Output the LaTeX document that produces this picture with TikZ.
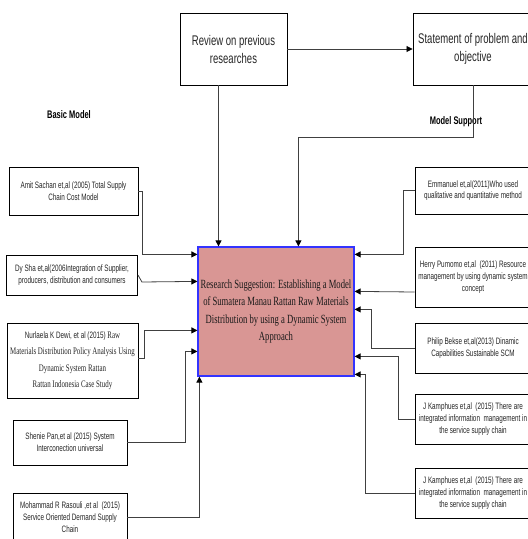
\documentclass[tikz,border=0pt]{standalone}
\usepackage{fontspec}
\newfontfamily\narrowsans[FakeStretch=0.68]{Liberation Sans}
\newfontfamily\narrowserif[FakeStretch=0.69]{Liberation Serif}
\usetikzlibrary{arrows.meta,calc}

\definecolor{suggestFill}{HTML}{D99694}
\definecolor{suggestEdge}{HTML}{3333FF}
\definecolor{linkGray}{HTML}{404040}

\begin{document}
\begin{tikzpicture}[x=1pt, y=-1pt,
	paper/.style={draw=black, line width=0.9pt, fill=white, align=center, inner sep=0pt, text=black!85,
		font=\narrowsans\fontsize{9.3}{11.7}\selectfont},
	bigpaper/.style={paper, minimum width=107pt, minimum height=72pt, font=\narrowsans\fontsize{14}{18}\selectfont},
	heading/.style={font=\narrowsans\bfseries\fontsize{11}{13}\selectfont},
	link/.style={draw=linkGray, line width=0.8pt, -{Triangle[length=6pt,width=6pt,color=black]}}]

	% page frame, the right column runs off the edge
	\useasboundingbox (0,0) rectangle (528,539);
	\clip (0,0) rectangle (528,539);

	% top row
	\node[bigpaper] (review) at (233.5,49) {Review on previous\\researches};
	\node[bigpaper, minimum width=120pt] (statement) at (473,49) {Statement of problem and\\objective};

	% column headings
	\node[heading] (basic) at (69,115) {Basic Model};
	\node[heading] (support) at (456,122) {Model Support};

	% central suggestion box
	\node[draw=suggestEdge, line width=1.2pt, fill=suggestFill, minimum width=156pt, minimum height=129pt,
		align=center, inner sep=0pt, text=black!90, font=\narrowserif\fontsize{12.5}{17.5}\selectfont]
		(suggestion) at (276,311.5)
		{Research Suggestion: Establishing a Model\\of Sumatera Manau Rattan Raw Materials\\Distribution by using a Dynamic System\\Approach};

	% basic model papers (left)
	\node[paper, minimum width=129pt, minimum height=48pt] (amit) at (73.5,191)
		{Amit Sachan et,al (2005) Total Supply\\Chain Cost Model};
	\node[paper, minimum width=131pt, minimum height=40pt] (dysha) at (72,275)
		{Dy Sha et,al(2006Integration of Supplier,\\producers, distribution and consumers};
	\node[paper, minimum width=131pt, minimum height=75pt, font=\narrowserif\fontsize{10}{16.5}\selectfont] (nurlaela) at (72.5,360.5)
		{{\narrowsans\fontsize{9.3}{16.5}\selectfont Nurlaela K Dewi, et al (2015)} Raw\\Materials Distribution Policy Analysis Using\\Dynamic System Rattan\\Rattan Indonesia Case Study};
	\node[paper, minimum width=114pt, minimum height=45pt] (shenie) at (70,442.5)
		{Shenie Pan,et al (2015) System\\Interconection universal};
	\node[paper, minimum width=114pt, minimum height=48pt] (mohammad) at (70,517)
		{Mohammad R Rasouli ,et al\ \ (2015)\\Service Oriented Demand Supply\\Chain};

	% model support papers (right)
	\node[paper, minimum width=116pt, minimum height=47pt] (emmanuel) at (473,190.5)
		{Emmanuel et,al(2011)Who used\\qualitative and quantitative method};
	\node[paper, minimum width=116pt, minimum height=60pt] (herry) at (473,277)
		{Herry Pumomo et,al\ \ (2011) Resource\\management by using dynamic system\\concept};
	\node[paper, minimum width=116pt, minimum height=50pt] (philip) at (473,348)
		{Philip Bekse et,al(2013) Dinamic\\Capabilities Sustainable SCM};
	\node[paper, minimum width=116pt, minimum height=50pt] (jkone) at (473,419)
		{J Kamphues et,al\ \ (2015) There are\\integrated information\ \ management in\\the service supply chain};
	\node[paper, minimum width=116pt, minimum height=50pt] (jktwo) at (473,493)
		{J Kamphues et,al\ \ (2015) There are\\integrated information\ \ management in\\the service supply chain};

	% top links
	\draw[link] (review.east) -- (statement.west);
	\draw[link] ($(review.south)+(-15,0)$) coordinate (rv) -- (rv |- suggestion.north);
	\draw[link] (statement.south) -- ++(0,52) -| ($(suggestion.north west)+(101,0)$);

	% left links
	\draw[link] (amit.east) -- ++(4,0) |- ($(suggestion.north west)+(0,8)$);
	\draw[link] (dysha.east) -- ++(4,7) -- ($(suggestion.north west)+(0,35)$);
	\draw[link] ($(nurlaela.east)+(0,-2)$) -- ++(6,0) |- ($(suggestion.north west)+(0,84)$);
	\draw[link] (shenie.east) -- ++(58,0) |- ($(suggestion.north west)+(0,105)$);
	\draw[link] (mohammad.east) -| ($(suggestion.south west)+(2,0)$);

	% right links
	\draw[link] (emmanuel.west) -- ++(-11,0) |- ($(suggestion.north east)+(0,8)$);
	\draw[link] ($(herry.west)+(0,15)$) -- ($(suggestion.north east)+(0,45)$);
	\draw[link] (philip.west) -- ++(-43,0) |- ($(suggestion.north east)+(0,63)$);
	\draw[link] (jkone.west) -- ++(-16,0) |- ($(suggestion.north east)+(0,110)$);
	\draw[link] (jktwo.west) -- ++(-49,0) |- ($(suggestion.north east)+(0,128)$);

\end{tikzpicture}
\end{document}
